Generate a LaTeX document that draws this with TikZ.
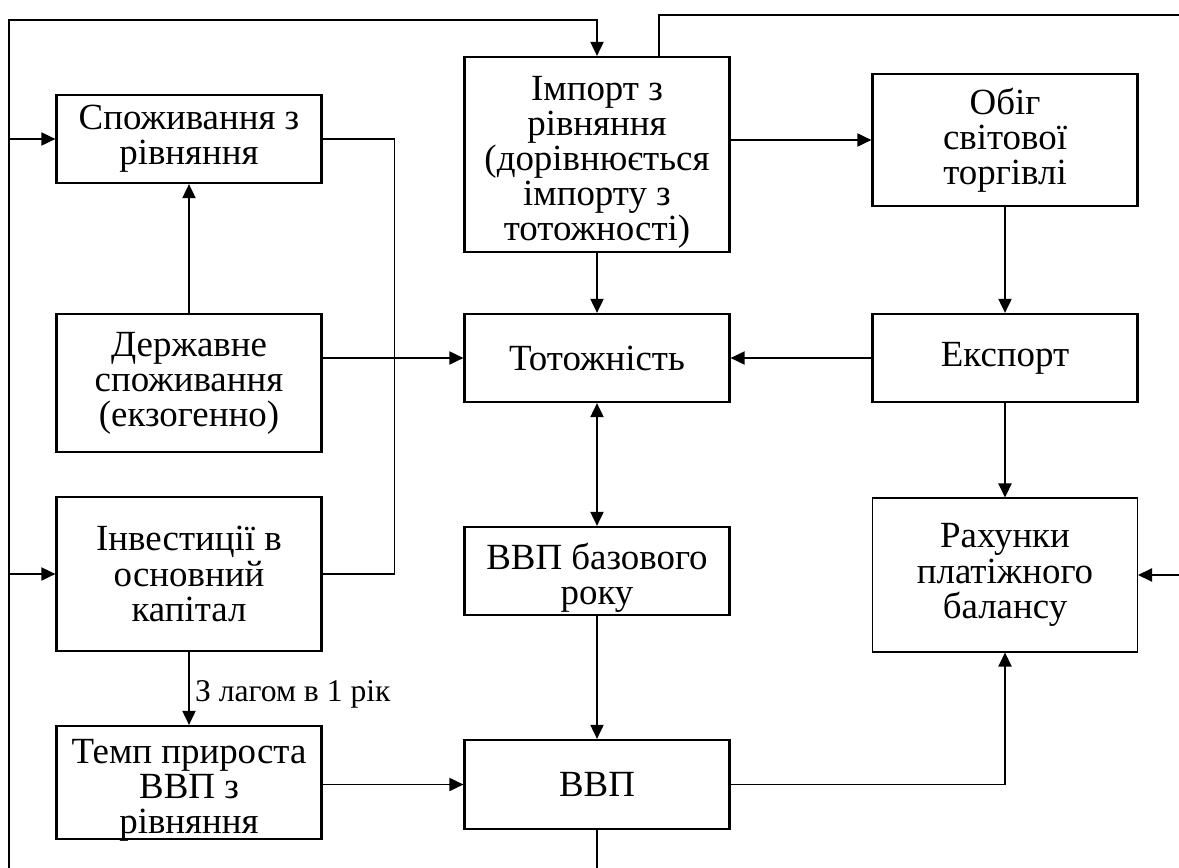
\documentclass[tikz,border=0pt]{standalone}
\usepackage{fontspec}
\setmainfont{Liberation Serif}
\usetikzlibrary{arrows.meta}

\begin{document}
\begin{tikzpicture}[x=0.02cm,y=-0.02cm,
  block/.style={draw,line width=1.3pt,inner sep=0pt,align=center,minimum width=5.3cm,
    font=\fontsize{21}{20}\selectfont},
  lowtext/.style={inner sep=0pt,align=center,yshift=-0.16cm,font=\fontsize{21}{20}\selectfont},
  link/.style={line width=0.9pt},
  arr/.style={link,-{Triangle[length=8pt,width=7.5pt]}},
  darr/.style={link,{Triangle[length=8pt,width=7.5pt]}-{Triangle[length=8pt,width=7.5pt]}}]
\useasboundingbox (0,0) rectangle (1179,868);
% left column
\node[block,minimum height=1.76cm] (spoz) at (189,139) {Споживання з\\рівняння};
\node[block,minimum height=2.76cm] (derzh) at (189,383) {Державне\\споживання\\(екзогенно)};
\node[block,minimum height=3.08cm] (invest) at (189,574) {Інвестиції в\\основний\\капітал};
\node[block,minimum height=2.26cm,
  label={[lowtext]center:Темп прироста\\ВВП з\\рівняння}] (temp) at (189,782.5) {};
% middle column
\node[block,minimum height=3.9cm,
  label={[lowtext]center:Імпорт з\\рівняння\\(дорівнюється\\імпорту з\\тотожності)}] (import) at (597,154.5) {};
\node[block,minimum height=1.76cm] (totozh) at (597,358) {Тотожність};
\node[block,minimum height=1.76cm,
  label={[lowtext,yshift=0.02cm]center:ВВП базового\\року}] (vvpbase) at (597,571) {};
\node[block,minimum height=1.78cm] (vvp) at (597,784.5) {ВВП};
% right column
\node[block,minimum height=2.64cm] (obig) at (1005,140) {Обіг\\світової\\торгівлі};
\node[block,minimum height=1.76cm] (export) at (1005,358) {Експорт};
\node[block,line width=0.6pt,minimum height=3.08cm] (rahunky) at (1005,575) {Рахунки\\платіжного\\балансу};
% free ends at the picture edges
\coordinate (lb) at (9,868);
\coordinate (lt) at (9,20);
\coordinate (tr) at (1179,15);
\coordinate (rr) at (1179,575);
\coordinate (vb) at (597,868);
% connectors
\draw[arr] (lb) -- (lt) -| (import.north);
\draw[arr] (spoz.west -| lt) -- (spoz.west);
\draw[arr] (invest.west -| lt) -- (invest.west);
\draw[arr] (derzh.north) -- (spoz.south);
\draw[link] (spoz.east) -- ++(72,0) |- (invest.east);
\draw[arr] (derzh.east |- totozh.west) -- (totozh.west);
\draw[arr] (import.south) -- (totozh.north);
\draw[arr] (import.east |- obig.west) -- (obig.west);
\draw[link] ([xshift=1.24cm]import.north) |- (tr);
\draw[arr] (obig.south) -- (export.north);
\draw[arr] (export.west) -- (totozh.east);
\draw[arr] (export.south) -- (rahunky.north);
\draw[darr] (totozh.south) -- (vvpbase.north);
\draw[arr] (vvpbase.south) -- (vvp.north);
\draw[arr] (invest.south) -- (temp.north)
  node[pos=0.58,right,inner sep=3pt,font=\fontsize{18}{18}\selectfont] {З лагом в 1 рік};
\draw[arr] (temp.east |- vvp.west) -- (vvp.west);
\draw[arr] (vvp.east) -| (rahunky.south);
\draw[link] (vvp.south) -- (vb);
\draw[arr] (rr) -- (rahunky.east);
\end{tikzpicture}
\end{document}
